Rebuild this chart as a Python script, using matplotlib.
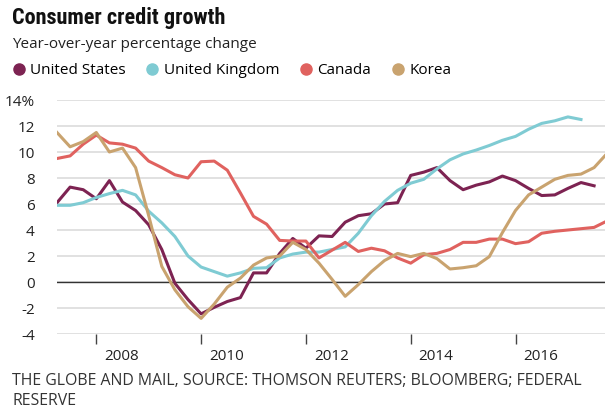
import numpy as np
import matplotlib.pyplot as plt
from matplotlib.lines import Line2D

# quarterly series, first point = 2007 Q1 (plotted at 2007.25)
start = 2007.25
us = [6.1, 7.3, 7.1, 6.4, 7.8, 6.15, 5.5, 4.4, 2.5, -0.1, -1.35, -2.45, -1.95, -1.5, -1.2, 0.7,
      0.7, 2.2, 3.35, 2.6, 3.55, 3.5, 4.6, 5.1, 5.25, 6.0, 6.1, 8.2, 8.45, 8.8, 7.8, 7.1,
      7.45, 7.7, 8.15, 7.8, 7.2, 6.65, 6.7, 7.2, 7.65, 7.4]
uk = [5.9, 5.9, 6.1, 6.5, 6.8, 7.05, 6.7, 5.45, 4.55, 3.5, 2.0, 1.15, 0.8, 0.45, 0.7, 1.05,
      1.1, 1.85, 2.15, 2.3, 2.3, 2.5, 2.7, 3.75, 5.1, 6.2, 7.05, 7.6, 7.9, 8.7, 9.4, 9.85,
      10.15, 10.5, 10.9, 11.2, 11.75, 12.2, 12.4, 12.7, 12.5]
canada = [9.5, 9.7, 10.6, 11.3, 10.7, 10.6, 10.3, 9.3, 8.8, 8.25, 8.0, 9.25, 9.3, 8.6, 6.85, 5.05,
          4.45, 3.2, 3.15, 3.15, 1.85, 2.45, 3.05, 2.35, 2.6, 2.4, 1.85, 1.45, 2.1, 2.2, 2.5, 3.05,
          3.05, 3.3, 3.3, 2.95, 3.1, 3.75, 3.9, 4.0, 4.1, 4.2, 4.7]
korea = [11.5, 10.4, 10.8, 11.5, 10.0, 10.3, 8.8, 5.1, 1.2, -0.6, -1.9, -2.8, -1.7, -0.4, 0.3, 1.3,
         1.85, 2.0, 3.05, 2.5, 1.45, 0.2, -1.1, -0.2, 0.8, 1.65, 2.2, 1.95, 2.2, 1.8, 1.0, 1.1,
         1.25, 1.95, 3.8, 5.5, 6.7, 7.3, 7.9, 8.2, 8.3, 8.8, 9.9]

names = ['United States', 'United Kingdom', 'Canada', 'Korea']
series = [us, uk, canada, korea]
colors = ['#7d2352', '#7fcbd3', '#e0625f', '#c9a36f']
years = [2008, 2010, 2012, 2014, 2016]
yticks = list(range(-4, 16, 2))

plt.rcParams['font.family'] = ['Open Sans', 'DejaVu Sans']

fig = plt.figure(figsize=(6.05, 4.08), dpi=100)
ax = fig.add_axes([57 / 605, 1 - 334 / 408, 1 - 57 / 605, 234 / 408])

for vals, c, n in zip(series, colors, names):
    t = start + 0.25 * np.arange(len(vals))
    ax.plot(t, vals, color=c, lw=2.2, label=n, zorder=3)

ax.set_xlim(start, start + 548 / 52.4)
ax.set_ylim(-4, 14)
ax.set_yticks(yticks)
ax.set_yticklabels([f'{v}%' if v == 14 else str(v) for v in yticks], fontsize=11, color='#222222')
ax.tick_params(axis='y', length=0, pad=16)
ax.grid(axis='y', color='#dedede', lw=1.3, zorder=0)
ax.axhline(0, color='#333333', lw=1, zorder=2)

ax.set_xticks(years)
ax.set_xticklabels([])
ax.tick_params(axis='x', length=7, width=1, color='#444444', direction='out', pad=0)
for y in years:
    ax.text(y + 0.15, -0.095, str(y), transform=ax.get_xaxis_transform(),
            ha='left', va='center', fontsize=11, color='#222222')

for s in ax.spines.values():
    s.set_visible(False)

fig.text(12 / 605, 1 - 18 / 408, 'Consumer credit growth', fontsize=16, fontweight='bold',
         family=['Liberation Sans Narrow', 'Roboto Condensed', 'Open Sans'], va='center', color='#111111')
fig.text(12 / 605, 1 - 44 / 408, 'Year-over-year percentage change', fontsize=11,
         va='center', color='#222222')

handles = [Line2D([], [], marker='o', ls='none', color=c, markersize=8) for c in colors]
fig.legend(handles, names, loc='center left', bbox_to_anchor=(11 / 605, 1 - 71 / 408), ncol=4,
           frameon=False, fontsize=11, handletextpad=0.25, columnspacing=1.25,
           handlelength=1.0, borderaxespad=0, borderpad=0)

fig.text(12 / 605, 1 - 381 / 408, 'THE GLOBE AND MAIL, SOURCE: THOMSON REUTERS; BLOOMBERG; FEDERAL',
         fontsize=11.4, va='center', color='#333333')
fig.text(12 / 605, 1 - 401 / 408, 'RESERVE', fontsize=11.4, va='center', color='#333333')

fig.savefig('out.png', dpi=100)
